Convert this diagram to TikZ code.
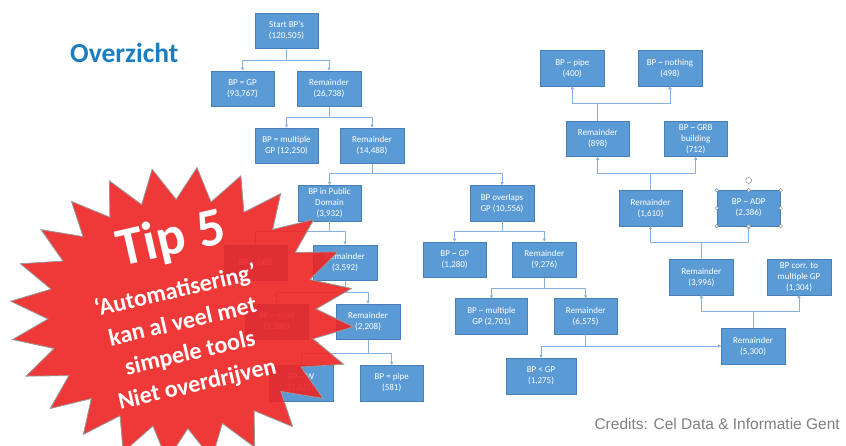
\documentclass[tikz,border=0pt]{standalone}
\usepackage{fontspec}
\setmainfont{Carlito}
\newfontfamily\creditfont{Liberation Sans}
\usetikzlibrary{arrows.meta}
\definecolor{boxblue}{RGB}{91,155,213}
\definecolor{boxedge}{RGB}{72,128,182}
\definecolor{linkblue}{RGB}{135,178,222}
\definecolor{titleblue}{RGB}{27,126,190}
\definecolor{starred}{RGB}{238,36,36}
\definecolor{creditgray}{RGB}{128,128,128}
\tikzset{
  bx/.style={draw=boxedge, line width=0.5pt, fill=boxblue, text=white,
    minimum width=63.5pt, minimum height=35.5pt, inner sep=1pt, align=center,
    font=\fontsize{9}{11}\selectfont},
  link/.style={draw=linkblue, line width=1pt, -{Triangle[length=3pt,width=3.2pt]}},
  handlestyle/.style={draw=gray, fill=white, line width=0.4pt},
  starshape/.style={draw=gray!80, line width=0.8pt, fill=starred, fill opacity=0.9},
  startext/.style={text=white, rotate=13, align=center},
}
\begin{document}
\begin{tikzpicture}[x=1pt,y=-1pt]
\useasboundingbox (0,0) rectangle (846,445);
\clip (0,0) rectangle (846,445);
\fill[white] (0,0) rectangle (846,445);

\node[anchor=base west, font=\bfseries\fontsize{27.5}{30}\selectfont, text=titleblue] (title) at (66.7,62) {Overzicht};

% boxes
\node[bx] (start) at (286.5,30.5) {Start BP’s\\(120,505)};
\node[bx] (bpgp) at (242.5,88.5) {BP = GP\\(93,767)};
\node[bx] (r1) at (329,88.5) {Remainder\\(26,738)};
\node[bx] (mult1) at (286.5,145.5) {BP = multiple\\GP (12,250)};
\node[bx] (r2) at (372,145.5) {Remainder\\(14,488)};
\node[bx] (pub) at (329.5,203) {BP in Public\\Domain\\(3,932)};
\node[bx] (ovl) at (502,203) {BP overlaps\\GP (10,556)};
\node[bx] (h1) at (255.7,262.5) {BP \textasciitilde{} GRB};
\node[bx] (r3) at (345,262.5) {Remainder\\(3,592)};
\node[bx] (h2) at (276.7,321.7) {BP \textasciitilde{} road\\(1,380)};
\node[bx] (r4) at (368,321.7) {Remainder\\(2,208)};
\node[bx] (h3) at (301,383) {BP \textasciitilde{} W\\(1,627)};
\node[bx] (pipe581) at (391.7,383) {BP = pipe\\(581)};
\node[bx] (gp1280) at (454.7,259.5) {BP \textasciitilde{} GP\\(1,280)};
\node[bx] (r9276) at (544.3,259.5) {Remainder\\(9,276)};
\node[bx, minimum width=71.7pt] (mult2701) at (491.5,316.3) {BP \textasciitilde{} multiple\\GP (2,701)};
\node[bx] (r6575) at (585.7,316.3) {Remainder\\(6,575)};
\node[bx, minimum width=70pt] (lt1275) at (541,376) {BP < GP\\(1,275)};
\node[bx] (r5300) at (753,346) {Remainder\\(5,300)};
\node[bx] (r3996) at (701.3,277) {Remainder\\(3,996)};
\node[bx] (corr) at (799,277) {BP corr. to\\multiple GP\\(1,304)};
\node[bx] (r1610) at (650.5,208.2) {Remainder\\(1,610)};
\node[bx] (adp) at (748.7,208.2) {BP \textasciitilde{} ADP\\(2,386)};
\node[bx] (r898) at (597.7,138.8) {Remainder\\(898)};
\node[bx] (grb712) at (695.7,138.8) {BP \textasciitilde{} GRB\\building\\(712)};
\node[bx] (pipe400) at (572.3,68.3) {BP \textasciitilde{} pipe\\(400)};
\node[bx] (noth) at (670,68.3) {BP \textasciitilde{} nothing\\(498)};

% downward tree
\draw[link] (start.south) -- ++(0,12) -| (bpgp.north);
\draw[link] (start.south) -- ++(0,12) -| (r1.north);
\draw[link] (r1.south) -- ++(0,11) -| (mult1.north);
\draw[link] (r1.south) -- ++(0,11) -| (r2.north);
\draw[link] (r2.south) -- ++(0,10) -| (pub.north);
\draw[link] (r2.south) -- ++(0,10) -| (ovl.north);
\draw[link] (pub.south) -- ++(0,10) -| (h1.north);
\draw[link] (pub.south) -- ++(0,10) -| (r3.north);
\draw[link] (r3.south) -- ++(0,12) -| (h2.north);
\draw[link] (r3.south) -- ++(0,12) -| (r4.north);
\draw[link] (r4.south) -- ++(0,14) -| (h3.north);
\draw[link] (r4.south) -- ++(0,14) -| (pipe581.north);
\draw[link] (ovl.south) -- ++(0,10) -| (gp1280.north);
\draw[link] (ovl.south) -- ++(0,10) -| (r9276.north);
\draw[link] (r9276.south) -- ++(0,11) -| (mult2701.north);
\draw[link] (r9276.south) -- ++(0,11) -| (r6575.north);
\draw[link] (r6575.south) |- (r5300.west);
\draw[link] (r6575.south |- r5300.west) -| (lt1275.north);

% upward tree
\draw[link] (r5300.north) -- ++(0,-16.3) -| (r3996.south);
\draw[link] (r5300.north) -- ++(0,-16.3) -| (corr.south);
\draw[link] (r3996.north) -- ++(0,-16.5) -| (r1610.south);
\draw[link] (r3996.north) -- ++(0,-16.5) -| (adp.south);
\draw[link] (r1610.north) -- ++(0,-17) -| (r898.south);
\draw[link] (r1610.north) -- ++(0,-17) -| (grb712.south);
\draw[link] (r898.north) -- ++(0,-17.7) -| (pipe400.south);
\draw[link] (r898.north) -- ++(0,-17.7) -| (noth.south);

% selection handles on BP ~ ADP
\foreach \a in {north west,north,north east,east,south east,south,south west,west}
  \draw[handlestyle] (adp.\a) circle[radius=1.8pt];
\draw[handlestyle] ([yshift=9.8pt]adp.north) circle[radius=3pt];

% star
\path[starshape] plot[samples at={0,...,47}, variable=\k]
  ({182+172*(1-0.22*mod(\k,2))*cos(85+7.5*\k)}, {314-147*(1-0.22*mod(\k,2))*sin(85+7.5*\k)}) -- cycle;
\node[startext, font=\bfseries\fontsize{54}{54}\selectfont] (tip) at (171.5,240) {Tip 5};
\node[startext, font=\bfseries\fontsize{24}{32}\selectfont] (tiptext) at (186.5,338)
  {‘Automatisering’\\kan al veel met\\simpele tools\\Niet overdrijven};

\node[anchor=base east, font=\creditfont\fontsize{15.5}{18}\selectfont, text=creditgray] (credits) at (843.3,429.3) {Credits: Cel Data \& Informatie Gent};
\end{tikzpicture}
\end{document}
